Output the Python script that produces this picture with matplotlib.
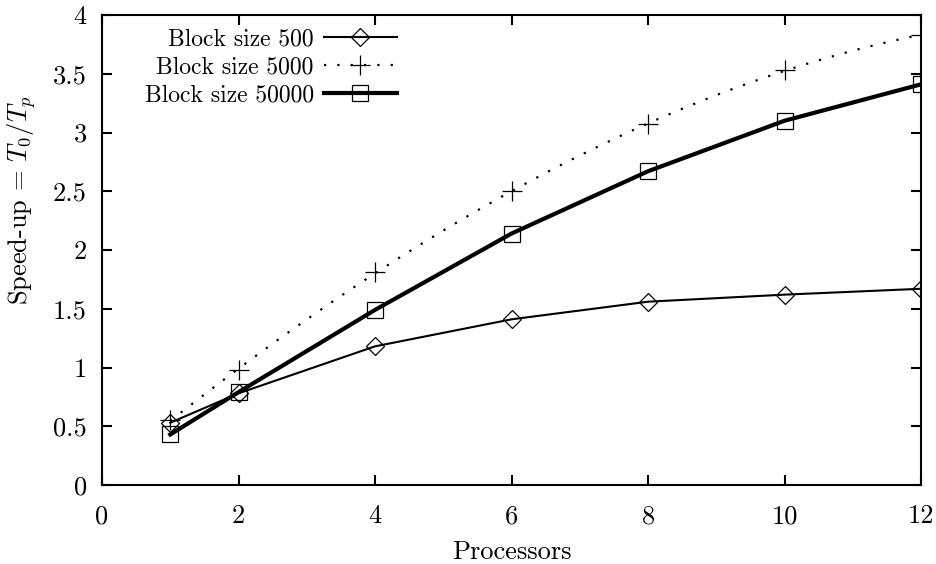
import numpy as np
import matplotlib
matplotlib.use("Agg")
import matplotlib.pyplot as plt

plt.rcParams["font.family"] = ["cmr10", "DejaVu Serif"]
plt.rcParams["mathtext.fontset"] = "cm"
plt.rcParams["axes.unicode_minus"] = False
plt.rcParams["axes.formatter.use_mathtext"] = True

processors = [1, 2, 4, 6, 8, 10, 12]
speedup_500 = [0.53, 0.78, 1.18, 1.41, 1.56, 1.62, 1.67]
speedup_5000 = [0.55, 0.98, 1.81, 2.50, 3.07, 3.53, 3.83]
speedup_50000 = [0.43, 0.79, 1.49, 2.14, 2.67, 3.10, 3.41]

x_ticks = [0, 2, 4, 6, 8, 10, 12]
y_ticks = [0, 0.5, 1, 1.5, 2, 2.5, 3, 3.5, 4]
y_tick_labels = ["0", "0.5", "1", "1.5", "2", "2.5", "3", "3.5", "4"]

FS = 19
LEG_FS = 17

fig = plt.figure(figsize=(9.36, 5.64), dpi=100)
ax = fig.add_axes([102 / 936, 79 / 564, 819 / 936, 470 / 564])

# Block size 500: thin solid line through hollow diamonds
ax.plot(processors, speedup_500, color="black", lw=1.5, marker="D",
        ms=9.5, mfc="none", mec="black", mew=0.9, label="Block size 500",
        zorder=3)

# Block size 5000: dotted smoothed trend with plus markers
xs = np.array(processors, dtype=float)
coef = np.polyfit(xs, speedup_5000, 3)
xf = np.linspace(xs.min(), xs.max(), 200)
ax.plot(xf, np.polyval(coef, xf), color="black", lw=1.6,
        linestyle=(0, (1, 5)), zorder=2)
ax.plot(processors, speedup_5000, linestyle="none", marker="+", ms=14,
        mec="black", mew=0.9, zorder=3)
h5000, = ax.plot([], [], color="black", lw=1.6, linestyle=(0, (1, 5)),
                 marker="+", ms=14, mew=0.9, label="Block size 5000")

# Block size 50000: thick solid line through hollow squares
ax.plot(processors, speedup_50000, color="black", lw=3.0, marker="s",
        ms=11, mfc="none", mec="black", mew=0.9, label="Block size 50000",
        zorder=3)

ax.set_xlim(0, 12)
ax.set_ylim(0, 4)
ax.set_xticks(x_ticks)
ax.set_xticklabels([str(t) for t in x_ticks])
ax.set_yticks(y_ticks)
ax.set_yticklabels(y_tick_labels)
ax.tick_params(direction="in", length=7, width=1.5, top=True, right=True,
               labelsize=FS)
ax.tick_params(axis="x", pad=14)
ax.tick_params(axis="y", pad=11)
for s in ax.spines.values():
    s.set_linewidth(1.5)

ax.set_xlabel("Processors", fontsize=FS, labelpad=9)
ylab = ax.set_ylabel(r"Speed-up = $T_0/T_p$", fontsize=FS)
ylab.set_rotation_mode("anchor")
ylab.set_ha("left")
ylab.set_va("center")
ax.yaxis.set_label_coords(-0.098, 0.383)

handles, labels = ax.get_legend_handles_labels()
order = [labels.index(l) for l in
         ["Block size 500", "Block size 5000", "Block size 50000"]]
leg = ax.legend([handles[i] for i in order], [labels[i] for i in order],
                loc="upper right", bbox_to_anchor=(0.360, 0.972),
                frameon=False, markerfirst=False, fontsize=LEG_FS,
                handlelength=3.1, handletextpad=0.42, labelspacing=0.25,
                borderaxespad=0.0, borderpad=0.0)
for col in leg._legend_handle_box.get_children():
    col.align = "right"

fig.savefig("out.png", dpi=100)
